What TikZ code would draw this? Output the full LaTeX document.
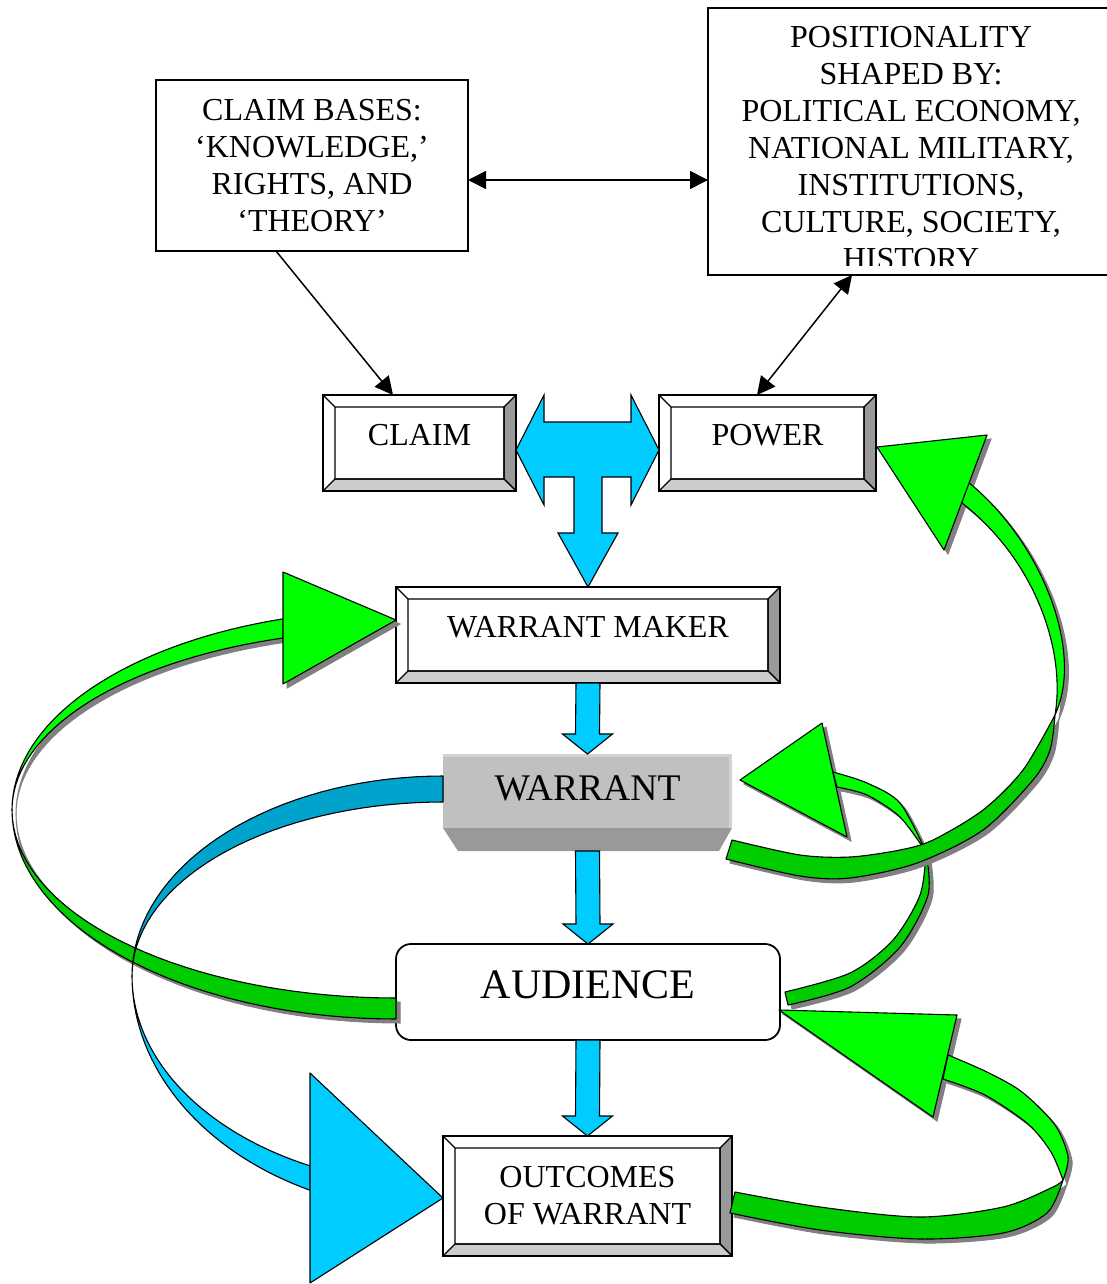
\documentclass[tikz,border=0pt]{standalone}
\usepackage{fontspec}
\setmainfont{Liberation Serif}
\usetikzlibrary{arrows.meta,calc}
\definecolor{litegreen}{HTML}{00FF00}
\definecolor{darkgreen}{HTML}{00CC00}
\definecolor{liteblue}{HTML}{00CCFF}
\definecolor{deepblue}{HTML}{00A3CC}
\definecolor{shadegray}{HTML}{808080}
\definecolor{bevelright}{HTML}{999999}
\definecolor{bevelbottom}{HTML}{CCCCCC}
\definecolor{warrantface}{HTML}{C0C0C0}
\definecolor{warrantrim}{HTML}{D2D2D2}
\definecolor{warrantbase}{HTML}{999999}
\newcommand\fs{\fontsize{16}{18.5}\selectfont}
\newcommand\liftup[2][4pt]{\raisebox{#1}[\height][\depth]{#2}}
% gerade Blockpfeile nach unten
\newcommand\flowdown[2]{\filldraw[flow] ($(#1)+(-12,0)$) -- ($(#1)+(12,0)$) -- ($(#2)+(12,-20)$)
  -- ($(#2)+(25,-20)$) -- (#2) -- ($(#2)+(-25,-20)$) -- ($(#2)+(-12,-20)$) -- cycle;}
% gruener Bogen links (Audience -> Warrant Maker)
\newcommand\ribbonleft[3]{%
  \filldraw[#1] plot[domain=90:180,samples=36] ({396+384*cos(\x)},{810+209*sin(\x)})
    -- plot[domain=180:90,samples=36] ({396+384*cos(\x)},{810+188*sin(\x)}) -- cycle;
  \filldraw[#2] plot[domain=180:252.9,samples=36] ({396+384*cos(\x)},{810+200*sin(\x)})
    -- plot[domain=252.9:180,samples=36] ({396+384*cos(\x)},{810+180*sin(\x)}) -- cycle;
  \filldraw[#3] (283,572) -- (396,620) -- (283,684) -- cycle;}
% kleiner Bogen (Audience -> Warrant)
\newcommand\ribbonsmall[3]{%
  \filldraw[#1] plot[smooth] coordinates {(788,1005) (850,987) (900,947) (928,895) (926,852)}
    -- plot[smooth] coordinates {(926,852) (920,895) (893,940) (850,973) (785,992)} -- cycle;
  \filldraw[#2] plot[smooth] coordinates {(926,852) (900,803) (867,783) (833,772)}
    -- plot[smooth] coordinates {(837,787) (867,795) (900,817) (926,852)} -- cycle;
  \filldraw[#3] (822,723) -- (740,780) -- (847,837) -- cycle;}
% grosser Bogen rechts (Warrant -> Power)
\newcommand\ribbonpower[3]{%
  \filldraw[#1] plot[smooth] coordinates {(732,840) (800,855) (850,857) (900,850) (933,840) (983,810) (1023,770) (1055,715)}
    -- plot[smooth] coordinates {(1055,715) (1050,750) (1033,780) (983,830) (917,863) (850,878) (800,876) (726,859)} -- cycle;
  \filldraw[#2] (1055,715) .. controls (1085,650) and (1040,540) .. (968,482)
    -- (962,503) .. controls (1035,560) and (1066,650) .. (1055,715) -- cycle;
  \filldraw[#3] (877,447) -- (987,435) -- (944,550) -- cycle;}
% Bogen unten rechts (Outcomes -> Audience)
\newcommand\ribbonlow[3]{%
  \filldraw[#1] plot[smooth] coordinates {(735,1192) (820,1207) (920,1217) (1003,1207) (1053,1187) (1063,1180)}
    -- plot[smooth] coordinates {(1063,1180) (1047,1213) (1003,1233) (920,1239) (820,1230) (730,1213)} -- cycle;
  \filldraw[#2] plot[smooth] coordinates {(1063,1180) (1068,1157) (1055,1125) (1022,1092) (987,1072) (948,1055)}
    -- plot[smooth] coordinates {(943,1079) (985,1095) (1028,1124) (1051,1152) (1063,1180)} -- cycle;
  \filldraw[#3] (779,1010) -- (957,1015) -- (933,1117) -- cycle;}
\begin{document}
\begin{tikzpicture}[x=0.5pt, y=-0.5pt,
    box/.style={draw=black, line width=0.9pt, fill=white, inner sep=0pt, outer sep=0pt, align=center, font=\fs},
    bevel/.style={box, path picture={
        \path (path picture bounding box.north west) coordinate (bvnw)
              (path picture bounding box.north east) coordinate (bvne)
              (path picture bounding box.south west) coordinate (bvsw)
              (path picture bounding box.south east) coordinate (bvse);
        \filldraw[fill=bevelright, line width=0.6pt] (bvne) -- (bvse) -- ($(bvse)+(-12,-12)$) -- ($(bvne)+(-12,12)$) -- cycle;
        \filldraw[fill=bevelbottom, line width=0.6pt] (bvsw) -- (bvse) -- ($(bvse)+(-12,-12)$) -- ($(bvsw)+(12,-12)$) -- cycle;
        \draw[line width=0.6pt] (bvnw) -- ($(bvnw)+(12,12)$) rectangle ($(bvse)+(-12,-12)$);}},
    flow/.style={fill=liteblue, draw=black, line width=0.55pt, line join=miter},
    link/.style={line width=0.75pt, {Triangle[length=9pt,width=9pt]}-{Triangle[length=9pt,width=9pt]}},
    onelink/.style={line width=0.75pt, -{Triangle[length=9pt,width=9pt]}},
    dropshade/.style={fill=shadegray, draw=shadegray, line width=0.5pt},
    ribbon/.style={draw=black, line width=0.55pt, line join=round}]
    \path[use as bounding box, fill=white] (0,0) rectangle (1107,1284);

    % Kaesten oben
    \node[box, minimum width=156pt, minimum height=85.5pt] (bases) at (312,165.5)
        {CLAIM BASES:\\‘KNOWLEDGE,’\\RIGHTS, AND\\‘THEORY’};
    \node[box, fill=none, minimum width=203pt, minimum height=133.5pt] (position) at (911,141.5) {};
    \begin{scope}
        \clip (708,8) rectangle (1107,265);
        \node[align=center, font=\fs, inner sep=0pt] (positiontext) at (911,148)
            {POSITIONALITY\\SHAPED BY:\\POLITICAL ECONOMY,\\NATIONAL MILITARY,\\INSTITUTIONS,\\CULTURE, SOCIETY,\\HISTORY};
    \end{scope}

    % Claim, Power, Warrant Maker
    \node[bevel, minimum width=96.5pt, minimum height=48pt] (claim) at (419.5,443) {\liftup{CLAIM}};
    \node[bevel, minimum width=108.5pt, minimum height=48pt] (power) at (767.5,443) {\liftup{POWER}};
    \node[bevel, minimum width=192pt, minimum height=48pt] (maker) at (588,635) {\liftup{WARRANT MAKER}};

    % Warrant (Quader)
    \node[fill=warrantface, inner sep=0pt, outer sep=0pt, minimum width=144.5pt, minimum height=37pt] (warrant) at (587.5,791) {};
    \fill[warrantrim] (warrant.north west) rectangle ($(warrant.north east)+(0,3)$);
    \fill[warrantrim] ($(warrant.north east)+(-3,0)$) rectangle (warrant.south east);
    \fill[warrantbase] (warrant.south west) -- (warrant.south east) -- ($(warrant.south east)+(-13,23)$)
        -- ($(warrant.south west)+(15,23)$) -- cycle;
    \node[font=\fontsize{18.8}{22}\selectfont, inner sep=0pt] (warranttext) at ($(warrant.center)+(0,-3)$) {WARRANT};
    \coordinate (warrantfoot) at ($(warrant.south)+(0,23)$);

    % Audience und Outcomes
    \node[box, rounded corners=7.5pt, minimum width=192pt, minimum height=48pt,
        font=\fontsize{21}{25}\selectfont] (audience) at (588,992) {\liftup[3.5pt]{AUDIENCE}};
    \node[bevel, minimum width=144.5pt, minimum height=60pt] (outcomes) at (587.5,1196) {OUTCOMES\\OF WARRANT};

    % schwarze Pfeile
    \draw[link] ($(bases.east)+(0,14.5)$) -- ($(position.west)+(0,38.5)$);
    \draw[onelink] ($(bases.south)+(-36,0)$) -- ($(claim.north)+(-26.5,0)$);
    \draw[link] ($(position.south)+(-59,0)$) -- ($(power.north)+(-10.5,0)$);

    % T-Pfeil zwischen Claim und Power
    \coordinate (tl) at ($(claim.east)+(0,7)$);
    \coordinate (tr) at ($(power.west)+(0,7)$);
    \coordinate (tb) at (maker.north);
    \filldraw[flow] (tl) -- ($(tl)+(28,-55)$) -- ($(tl)+(28,-28)$) -- ($(tr)+(-28,-28)$) -- ($(tr)+(-28,-55)$)
        -- (tr) -- ($(tr)+(-28,55)$) -- ($(tr)+(-28,27)$) -- ($(tb)+(14,-110)$) -- ($(tb)+(14,-54)$)
        -- ($(tb)+(30,-54)$) -- (tb) -- ($(tb)+(-30,-54)$) -- ($(tb)+(-14,-54)$) -- ($(tb)+(-14,-110)$)
        -- ($(tl)+(28,27)$) -- ($(tl)+(28,55)$) -- cycle;

    % Blockpfeile nach unten
    \flowdown{maker.south}{warrant.north}
    \flowdown{warrantfoot}{audience.north}
    \flowdown{audience.south}{outcomes.north}

    % gruener Bogen links
    \begin{scope}[shift={(4,4)}]
        \ribbonleft{dropshade}{dropshade}{dropshade}
    \end{scope}
    \ribbonleft{ribbon, fill=darkgreen}{ribbon, fill=litegreen}{ribbon, fill=litegreen}

    % blauer Bogen (Warrant -> Outcomes)
    \filldraw[ribbon, fill=deepblue] plot[domain=270:180,samples=36] ({443+311*cos(\x)},{976+200*sin(\x)})
        -- plot[domain=180:270,samples=36] ({443+311*cos(\x)},{976+174*sin(\x)}) -- cycle;
    \filldraw[ribbon, fill=liteblue] plot[domain=180:115.3,samples=36] ({443+311*cos(\x)},{976+237*sin(\x)})
        -- plot[domain=115.3:180,samples=36] ({443+311*cos(\x)},{976+210*sin(\x)}) -- cycle;
    \filldraw[ribbon, fill=liteblue] (310,1073) -- (outcomes.west |- 0,1198) -- (310,1283) -- cycle;

    % gruene Boegen rechts
    \begin{scope}[shift={(4,4)}]
        \ribbonsmall{dropshade}{dropshade}{dropshade}
    \end{scope}
    \ribbonsmall{ribbon, fill=darkgreen}{ribbon, fill=litegreen}{ribbon, fill=litegreen}
    \begin{scope}[shift={(4,4)}]
        \ribbonpower{dropshade}{dropshade}{dropshade}
    \end{scope}
    \ribbonpower{ribbon, fill=darkgreen}{ribbon, fill=litegreen}{ribbon, fill=litegreen}
    \begin{scope}[shift={(4,4)}]
        \ribbonlow{dropshade}{dropshade}{dropshade}
    \end{scope}
    \ribbonlow{ribbon, fill=darkgreen}{ribbon, fill=litegreen}{ribbon, fill=litegreen}
\end{tikzpicture}
\end{document}
